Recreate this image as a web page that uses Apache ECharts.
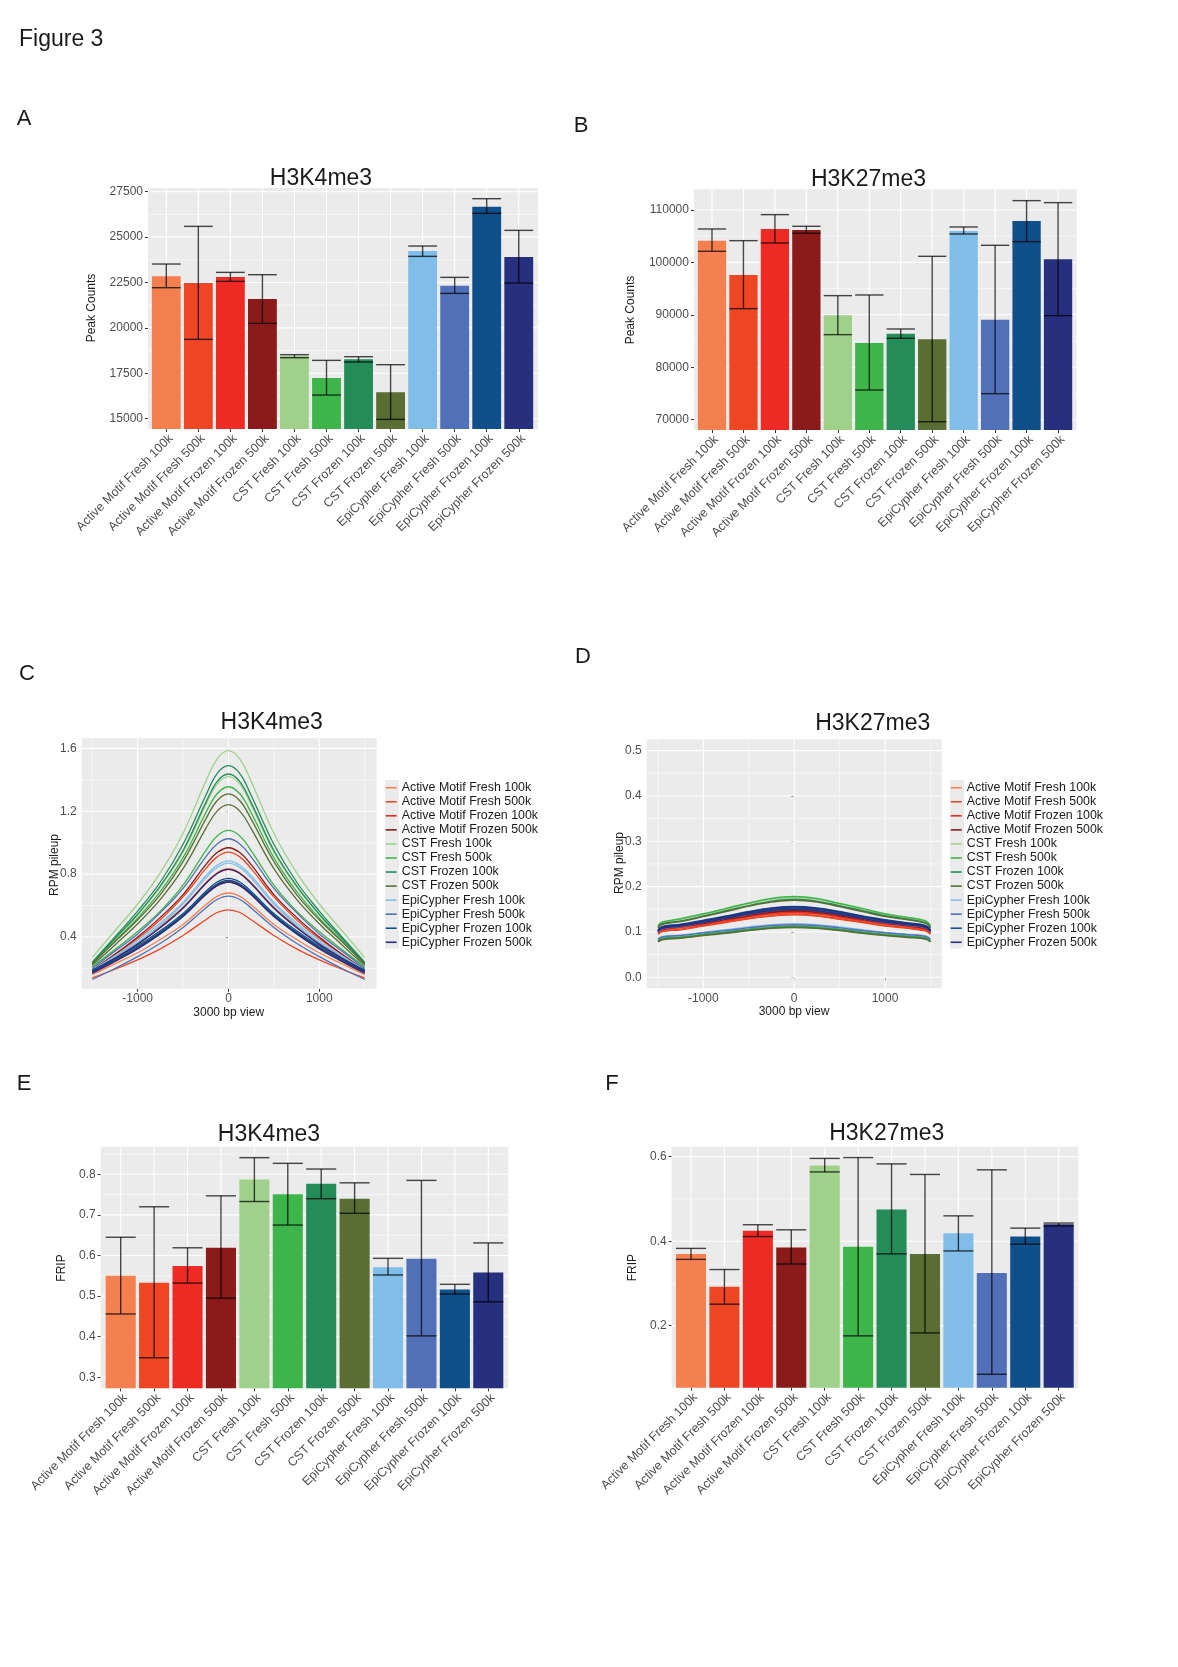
<!DOCTYPE html>
<html>
<head>
<meta charset="utf-8">
<script src="https://cdn.jsdelivr.net/npm/echarts@6.0.0/dist/echarts.min.js"></script>
<style>
html,body{margin:0;padding:0;background:#fff;}
#chart{width:1178px;height:1667px;}
</style>
</head>
<body>
<div id="chart"></div>
<script>
// ---------------- DATA ----------------
const categories = ['Active Motif Fresh 100k','Active Motif Fresh 500k','Active Motif Frozen 100k','Active Motif Frozen 500k',
  'CST Fresh 100k','CST Fresh 500k','CST Frozen 100k','CST Frozen 500k',
  'EpiCypher Fresh 100k','EpiCypher Fresh 500k','EpiCypher Frozen 100k','EpiCypher Frozen 500k'];
const colors = ['#F4804F','#EE4623','#EE2A24','#8B1A1A','#9FD18B','#3EB54A','#238C59','#586E33','#80BDE8','#5170B7','#0F508A','#272F7F'];

// A: H3K4me3 peak counts
const aMean = [22838, 22471, 22801, 21590, 18450, 17240, 18280, 16450, 24233, 22324, 26674, 23902];
const aLow  = [22214, 19369, 22562, 20250, 18360, 16303, 18120, 14963, 23939, 21902, 26307, 22471];
const aHigh = [23517, 25591, 23058, 22930, 18525, 18212, 18414, 17974, 24508, 22783, 27115, 25371];
const aTicks = [15000, 17500, 20000, 22500, 25000, 27500];
const aMinor = [16250, 18750, 21250, 23750, 26250];

// B: H3K27me3 peak counts
const bMean = [104150, 97600, 106375, 106185, 89906, 84628, 86408, 85327, 105994, 89079, 107901, 100589];
const bLow  = [102115, 91177, 103705, 105549, 86218, 75661, 85518, 69620, 105422, 74962, 103959, 89842];
const bHigh = [106375, 104150, 109110, 106884, 93657, 93785, 87298, 101161, 106757, 103260, 111781, 111399];
const bTicks = [70000, 80000, 90000, 100000, 110000];
const bMinor = [75000, 85000, 95000, 105000];

// E: H3K4me3 FRIP
const eMean = [0.550, 0.533, 0.574, 0.619, 0.787, 0.751, 0.777, 0.740, 0.571, 0.592, 0.516, 0.558];
const eLow  = [0.456, 0.348, 0.532, 0.495, 0.733, 0.675, 0.740, 0.704, 0.552, 0.402, 0.505, 0.486];
const eHigh = [0.645, 0.720, 0.619, 0.747, 0.841, 0.827, 0.813, 0.779, 0.593, 0.785, 0.529, 0.631];
const eTicks = [0.3, 0.4, 0.5, 0.6, 0.7, 0.8];
const eMinor = [0.35, 0.45, 0.55, 0.65, 0.75, 0.85];

// F: H3K27me3 FRIP
const fMean = [0.370, 0.292, 0.425, 0.385, 0.579, 0.387, 0.475, 0.370, 0.419, 0.325, 0.411, 0.440];
const fLow  = [0.357, 0.251, 0.411, 0.346, 0.564, 0.176, 0.370, 0.183, 0.377, 0.085, 0.393, 0.436];
const fHigh = [0.383, 0.333, 0.439, 0.427, 0.596, 0.598, 0.583, 0.558, 0.460, 0.569, 0.431, 0.443];
const fTicks = [0.2, 0.4, 0.6];
const fMinor = [0.1, 0.3, 0.5];

// C: H3K4me3 profiles (two replicates per condition)
const cX = [-1500, -1250, -1000, -750, -500, -250, -125, 0, 125, 250, 500, 750, 1000, 1250, 1500];
const c_AM_Fresh_100k = [
  [0.16, 0.23, 0.30, 0.385, 0.48, 0.605, 0.659, 0.68, 0.659, 0.605, 0.48, 0.385, 0.30, 0.23, 0.16],
  [0.19, 0.275, 0.365, 0.47, 0.59, 0.745, 0.809, 0.835, 0.809, 0.745, 0.59, 0.47, 0.365, 0.275, 0.19]];
const c_AM_Fresh_500k = [
  [0.14, 0.195, 0.255, 0.325, 0.41, 0.51, 0.556, 0.573, 0.556, 0.51, 0.41, 0.325, 0.255, 0.195, 0.14],
  [0.19, 0.29, 0.39, 0.51, 0.655, 0.835, 0.91, 0.94, 0.91, 0.835, 0.655, 0.51, 0.39, 0.29, 0.19]];
const c_AM_Frozen_100k = [
  [0.18, 0.265, 0.355, 0.46, 0.585, 0.74, 0.804, 0.83, 0.804, 0.74, 0.585, 0.46, 0.355, 0.265, 0.18],
  [0.17, 0.245, 0.33, 0.425, 0.535, 0.675, 0.736, 0.76, 0.736, 0.675, 0.535, 0.425, 0.33, 0.245, 0.17]];
const c_AM_Frozen_500k = [
  [0.19, 0.29, 0.40, 0.525, 0.67, 0.86, 0.937, 0.968, 0.937, 0.86, 0.67, 0.525, 0.40, 0.29, 0.19],
  [0.18, 0.255, 0.335, 0.425, 0.535, 0.67, 0.727, 0.75, 0.727, 0.67, 0.535, 0.425, 0.335, 0.255, 0.18]];
const c_CST_Fresh_100k = [
  [0.27, 0.44, 0.61, 0.81, 1.06, 1.39, 1.532, 1.585, 1.532, 1.39, 1.06, 0.81, 0.61, 0.44, 0.27],
  [0.23, 0.385, 0.54, 0.72, 0.94, 1.24, 1.372, 1.42, 1.372, 1.24, 0.94, 0.72, 0.54, 0.385, 0.23]];
const c_CST_Fresh_500k = [
  [0.23, 0.375, 0.52, 0.69, 0.905, 1.19, 1.311, 1.356, 1.311, 1.19, 0.905, 0.69, 0.52, 0.375, 0.23],
  [0.21, 0.32, 0.435, 0.565, 0.73, 0.95, 1.043, 1.078, 1.043, 0.95, 0.73, 0.565, 0.435, 0.32, 0.21]];
const c_CST_Frozen_100k = [
  [0.24, 0.40, 0.565, 0.75, 0.99, 1.30, 1.44, 1.49, 1.44, 1.30, 0.99, 0.75, 0.565, 0.40, 0.24],
  [0.23, 0.39, 0.545, 0.725, 0.95, 1.255, 1.389, 1.437, 1.389, 1.255, 0.95, 0.725, 0.545, 0.39, 0.23]];
const c_CST_Frozen_500k = [
  [0.23, 0.37, 0.51, 0.67, 0.88, 1.15, 1.267, 1.31, 1.267, 1.15, 0.88, 0.67, 0.51, 0.37, 0.23],
  [0.22, 0.35, 0.485, 0.64, 0.835, 1.09, 1.201, 1.242, 1.201, 1.09, 0.835, 0.64, 0.485, 0.35, 0.22]];
const c_Epi_Fresh_100k = [
  [0.19, 0.28, 0.38, 0.49, 0.62, 0.79, 0.857, 0.885, 0.857, 0.79, 0.62, 0.49, 0.38, 0.28, 0.19],
  [0.18, 0.27, 0.365, 0.475, 0.61, 0.775, 0.842, 0.87, 0.842, 0.775, 0.61, 0.475, 0.365, 0.27, 0.18]];
const c_Epi_Fresh_500k = [
  [0.20, 0.31, 0.42, 0.555, 0.71, 0.91, 0.992, 1.025, 0.992, 0.91, 0.71, 0.555, 0.42, 0.31, 0.20],
  [0.13, 0.20, 0.275, 0.36, 0.46, 0.585, 0.639, 0.66, 0.639, 0.585, 0.46, 0.36, 0.275, 0.20, 0.13]];
const c_Epi_Frozen_100k = [
  [0.19, 0.265, 0.345, 0.44, 0.55, 0.69, 0.75, 0.773, 0.75, 0.69, 0.55, 0.44, 0.345, 0.265, 0.19],
  [0.18, 0.255, 0.335, 0.43, 0.54, 0.68, 0.737, 0.76, 0.737, 0.68, 0.54, 0.43, 0.335, 0.255, 0.18]];
const c_Epi_Frozen_500k = [
  [0.18, 0.265, 0.355, 0.46, 0.585, 0.74, 0.804, 0.83, 0.804, 0.74, 0.585, 0.46, 0.355, 0.265, 0.18],
  [0.17, 0.245, 0.325, 0.42, 0.53, 0.67, 0.727, 0.75, 0.727, 0.67, 0.53, 0.42, 0.325, 0.245, 0.17]];
const cTicksY = [0.4, 0.8, 1.2, 1.6];
const cMinorY = [0.2, 0.6, 1.0, 1.4];
const profTicksX = [-1000, 0, 1000];
const profMinorX = [-1500, -500, 500, 1500];

// D: H3K27me3 profiles
const dX = [-1500, -1450, -1250, -1000, -750, -500, -250, 0, 250, 500, 750, 1000, 1250, 1450, 1500];
const d_AM_Fresh_100k = [
  [.100, .106, .111, .118, .127, .135, .142, .145, .142, .135, .127, .119, .113, .107, .100],
  [.098, .104, .109, .116, .124, .133, .139, .142, .139, .132, .124, .117, .111, .105, .098]];
const d_AM_Fresh_500k = [
  [.096, .102, .106, .114, .122, .130, .136, .139, .136, .129, .122, .114, .109, .103, .096],
  [.095, .101, .105, .113, .121, .129, .135, .138, .135, .128, .121, .113, .108, .102, .095]];
const d_AM_Frozen_100k = [
  [.101, .107, .112, .120, .128, .137, .144, .147, .144, .137, .128, .120, .114, .108, .101],
  [.099, .105, .110, .117, .125, .134, .140, .143, .140, .133, .125, .118, .112, .106, .099]];
const d_AM_Frozen_500k = [
  [.102, .108, .113, .121, .129, .138, .145, .148, .145, .138, .129, .121, .115, .109, .102],
  [.101, .107, .112, .119, .128, .136, .143, .146, .143, .136, .128, .120, .114, .108, .101]];
const d_CST_Fresh_100k = [
  [.113, .121, .128, .139, .150, .162, .172, .176, .172, .162, .150, .139, .131, .123, .113],
  [.080, .085, .088, .094, .099, .105, .110, .112, .110, .105, .099, .094, .090, .086, .080]];
const d_CST_Fresh_500k = [
  [.114, .122, .129, .140, .152, .164, .174, .178, .174, .163, .152, .140, .132, .124, .114],
  [.081, .086, .089, .095, .100, .106, .111, .113, .111, .106, .100, .095, .091, .087, .081]];
const d_CST_Frozen_100k = [
  [.110, .118, .124, .135, .147, .158, .168, .172, .168, .158, .147, .136, .128, .120, .110],
  [.079, .084, .087, .093, .098, .104, .109, .111, .109, .104, .098, .093, .089, .085, .079]];
const d_CST_Frozen_500k = [
  [.109, .117, .123, .134, .145, .157, .166, .170, .166, .156, .145, .134, .127, .119, .109],
  [.078, .083, .086, .092, .097, .103, .108, .110, .108, .103, .097, .092, .088, .084, .078]];
const d_Epi_Fresh_100k = [
  [.101, .108, .113, .122, .131, .141, .149, .152, .149, .141, .131, .123, .116, .110, .101],
  [.085, .090, .093, .099, .105, .111, .116, .118, .116, .111, .105, .099, .095, .091, .085]];
const d_Epi_Fresh_500k = [
  [.100, .107, .112, .121, .130, .139, .147, .150, .147, .139, .130, .121, .115, .109, .100],
  [.084, .089, .092, .098, .103, .109, .114, .116, .114, .109, .103, .098, .094, .090, .084]];
const d_Epi_Frozen_100k = [
  [.105, .112, .117, .126, .135, .145, .153, .156, .153, .145, .135, .127, .120, .114, .105],
  [.103, .110, .115, .124, .133, .142, .150, .153, .150, .142, .133, .124, .118, .112, .103]];
const d_Epi_Frozen_500k = [
  [.104, .111, .116, .125, .134, .144, .152, .155, .152, .144, .134, .126, .119, .113, .104],
  [.101, .108, .113, .121, .130, .140, .147, .150, .147, .139, .130, .122, .116, .110, .101]];
const dTicksY = [0, 0.1, 0.2, 0.3, 0.4, 0.5];
const dMinorY = [0.05, 0.15, 0.25, 0.35, 0.45];

// ---------------- BUILD ----------------
const FF = "'Liberation Sans', Arial, Helvetica, sans-serif";
const chart = echarts.init(document.getElementById('chart'), null, {renderer: 'canvas'});

// plot background rectangles [x, y, w, h]
const bgA = [148, 188, 390, 241];
const bgB = [694, 189.3, 382.7, 240.7];
const bgC = [81.7, 738.3, 295, 250.4];
const bgD = [646.7, 739.3, 295, 249];
const bgE = [100.7, 1146.7, 407.6, 241.6];
const bgF = [671.7, 1146.7, 406.6, 241];

const grids = [
  {left: 150.28, top: 188, width: 384.5, height: 241},
  {left: 696.27, top: 189.3, width: 377.5, height: 240.7},
  {left: 81.7, top: 738.3, width: 295, height: 250.4},
  {left: 646.7, top: 739.3, width: 295, height: 249},
  {left: 103.99, top: 1146.7, width: 401.0, height: 241.6},
  {left: 674.29, top: 1146.7, width: 401.1, height: 241}
];

function catX(gi) {
  return {type: 'category', gridIndex: gi, data: categories,
    axisLine: {show: false},
    axisTick: {show: true, alignWithLabel: true, length: 3, lineStyle: {color: '#333', width: 1}},
    axisLabel: {rotate: 45, interval: 0, align: 'right', verticalAlign: 'top', margin: 3,
      fontSize: 12.5, color: '#4d4d4d', fontFamily: FF},
    splitLine: {show: false}};
}
function valX(gi, min, max) {
  return {type: 'value', gridIndex: gi, min: min, max: max,
    axisLine: {show: false},
    axisTick: {show: true, length: 3, customValues: profTicksX, lineStyle: {color: '#333'}},
    axisLabel: {customValues: profTicksX, margin: 4, fontSize: 12, color: '#4d4d4d', fontFamily: FF,
      formatter: v => String(Math.round(v))},
    splitLine: {show: false}};
}
function valY(gi, min, max, ticks, dec, offset) {
  return {type: 'value', gridIndex: gi, min: min, max: max, offset: offset,
    axisLine: {show: false},
    axisTick: {show: true, length: 3, customValues: ticks, lineStyle: {color: '#333'}},
    axisLabel: {customValues: ticks, margin: 5, fontSize: 12, color: '#4d4d4d', fontFamily: FF,
      formatter: v => dec === 0 ? String(Math.round(v)) : v.toFixed(dec)},
    splitLine: {show: false}};
}

const xAxes = [catX(0), catX(1), valX(2, -1616, 1632), valX(3, -1624, 1624), catX(4), catX(5)];
const yAxes = [
  valY(0, 14433, 27704, aTicks, 0, 2.3),
  valY(1, 68031, 113943, bTicks, 0, 2.3),
  valY(2, 0.0714, 1.664, cTicksY, 1, 0),
  valY(3, -0.0243, 0.525, dTicksY, 1, 0),
  valY(4, 0.2729, 0.868, eTicks, 1, 3.3),
  valY(5, 0.0533, 0.6237, fTicks, 1, 2.6)
];

const series = [];

// white panel grid lines (major + minor), drawn through the axes' own scales
function gridLines(gi, bg, hMaj, hMin, vMaj, vMin, xRef, yRef) {
  series.push({
    type: 'custom', xAxisIndex: gi, yAxisIndex: gi, silent: true, z: 1,
    data: [[xRef, yRef]],
    renderItem: function (params, api) {
      const children = [];
      const hl = (v, major) => {
        const y = api.coord([xRef, v])[1];
        children.push({type: 'line', shape: {x1: bg[0], y1: y, x2: bg[0] + bg[2], y2: y},
          style: {stroke: '#ffffff', lineWidth: major ? 1.1 : 0.55}});
      };
      const vl = (v, major) => {
        const x = api.coord([v, yRef])[0];
        children.push({type: 'line', shape: {x1: x, y1: bg[1], x2: x, y2: bg[1] + bg[3]},
          style: {stroke: '#ffffff', lineWidth: major ? 1.1 : 0.55}});
      };
      hMin.forEach(v => hl(v, 0));
      vMin.forEach(v => vl(v, 0));
      hMaj.forEach(v => hl(v, 1));
      vMaj.forEach(v => vl(v, 1));
      return {type: 'group', children: children};
    }
  });
}
const catIdx = categories.map((c, i) => i);
gridLines(0, bgA, aTicks, aMinor, catIdx, [], 0, 14433);
gridLines(1, bgB, bTicks, bMinor, catIdx, [], 0, 68031);
gridLines(2, bgC, cTicksY, cMinorY, profTicksX, profMinorX, -1616, 0.0714);
gridLines(3, bgD, dTicksY, dMinorY, profTicksX, profMinorX, -1624, -0.0243);
gridLines(4, bgE, eTicks, eMinor, catIdx, [], 0, 0.2729);
gridLines(5, bgF, fTicks, fMinor, catIdx, [], 0, 0.0533);

function barPanel(gi, mean, low, high) {
  series.push({
    type: 'bar', xAxisIndex: gi, yAxisIndex: gi, z: 2, barWidth: '90%', silent: true,
    data: mean.map((v, i) => ({value: v, itemStyle: {color: colors[i]}}))
  });
  series.push({
    type: 'custom', xAxisIndex: gi, yAxisIndex: gi, z: 3, silent: true,
    encode: {x: 0, y: [1, 2]},
    data: low.map((l, i) => [i, l, high[i]]),
    renderItem: function (params, api) {
      const i = api.value(0);
      const lo = api.coord([i, api.value(1)]);
      const hi = api.coord([i, api.value(2)]);
      const w = api.size([1, 0])[0] * 0.9 / 2;
      const st = {stroke: 'rgba(0,0,0,0.72)', lineWidth: 1.4, fill: null};
      return {type: 'group', children: [
        {type: 'line', shape: {x1: lo[0], y1: lo[1], x2: hi[0], y2: hi[1]}, style: st},
        {type: 'line', shape: {x1: hi[0] - w, y1: hi[1], x2: hi[0] + w, y2: hi[1]}, style: st},
        {type: 'line', shape: {x1: lo[0] - w, y1: lo[1], x2: lo[0] + w, y2: lo[1]}, style: st}
      ]};
    }
  });
}
barPanel(0, aMean, aLow, aHigh);
barPanel(1, bMean, bLow, bHigh);
barPanel(4, eMean, eLow, eHigh);
barPanel(5, fMean, fLow, fHigh);

const cProfiles = [c_AM_Fresh_100k, c_AM_Fresh_500k, c_AM_Frozen_100k, c_AM_Frozen_500k,
  c_CST_Fresh_100k, c_CST_Fresh_500k, c_CST_Frozen_100k, c_CST_Frozen_500k,
  c_Epi_Fresh_100k, c_Epi_Fresh_500k, c_Epi_Frozen_100k, c_Epi_Frozen_500k];
const dProfiles = [d_AM_Fresh_100k, d_AM_Fresh_500k, d_AM_Frozen_100k, d_AM_Frozen_500k,
  d_CST_Fresh_100k, d_CST_Fresh_500k, d_CST_Frozen_100k, d_CST_Frozen_500k,
  d_Epi_Fresh_100k, d_Epi_Fresh_500k, d_Epi_Frozen_100k, d_Epi_Frozen_500k];

function profilePanel(gi, xs, profiles, width) {
  profiles.forEach((reps, i) => {
    reps.forEach(ys => {
      series.push({
        type: 'line', name: categories[i], xAxisIndex: gi, yAxisIndex: gi, z: 2, silent: true,
        smooth: 0.4, showSymbol: false, symbol: 'none',
        data: xs.map((x, j) => [x, ys[j]]),
        lineStyle: {color: colors[i], width: width},
        itemStyle: {color: colors[i]}
      });
    });
  });
}
profilePanel(2, cX, cProfiles, 1.3);
profilePanel(3, dX, dProfiles, 1.5);

function legendAt(left) {
  return {data: categories, orient: 'vertical', left: left, top: 780.7, padding: 0,
    itemWidth: 11, itemHeight: 1.6, itemGap: 0, icon: 'rect', selectedMode: false,
    textStyle: {fontSize: 12.4, lineHeight: 14.05, color: '#1a1a1a', fontFamily: FF}};
}

function txt(text, x, y, size, color, rot) {
  return {type: 'text', x: x, y: y, rotation: rot || 0, z: 10, silent: true,
    style: {text: text, fontSize: size, fontFamily: FF, fill: color, align: 'center', verticalAlign: 'middle'}};
}
function rect(r, color) {
  return {type: 'rect', shape: {x: r[0], y: r[1], width: r[2], height: r[3]}, z: -10, silent: true,
    style: {fill: color}};
}
const GRAY = '#EBEBEB';
const graphics = [
  rect(bgA, GRAY), rect(bgB, GRAY), rect(bgC, GRAY), rect(bgD, GRAY), rect(bgE, GRAY), rect(bgF, GRAY),
  rect([385, 780, 14, 168.5], GRAY), rect([950, 780, 14, 168.5], GRAY),
  {type: 'text', x: 19, y: 40, z: 10, silent: true,
    style: {text: 'Figure 3', fontSize: 23, fontFamily: FF, fill: '#1a1a1a', align: 'left', verticalAlign: 'middle'}},
  txt('A', 24, 119, 22, '#1a1a1a'),
  txt('B', 581, 126, 22, '#1a1a1a'),
  txt('C', 27, 674, 22, '#1a1a1a'),
  txt('D', 583, 657, 22, '#1a1a1a'),
  txt('E', 24, 1084, 22, '#1a1a1a'),
  txt('F', 612, 1084, 22, '#1a1a1a'),
  txt('H3K4me3', 321, 179, 23, '#1a1a1a'),
  txt('H3K27me3', 868.5, 180, 23, '#1a1a1a'),
  txt('H3K4me3', 271.7, 723, 23, '#1a1a1a'),
  txt('H3K27me3', 872.7, 723.7, 23, '#1a1a1a'),
  txt('H3K4me3', 269, 1134.5, 23, '#1a1a1a'),
  txt('H3K27me3', 886.7, 1133.7, 23, '#1a1a1a'),
  txt('Peak Counts', 92, 308, 12, '#1a1a1a', Math.PI / 2),
  txt('Peak Counts', 631, 310, 12, '#1a1a1a', Math.PI / 2),
  txt('RPM pileup', 55, 865, 12, '#1a1a1a', Math.PI / 2),
  txt('RPM pileup', 620, 863, 12, '#1a1a1a', Math.PI / 2),
  txt('3000 bp view', 228.7, 1012.7, 12, '#1a1a1a'),
  txt('3000 bp view', 794, 1011.7, 12, '#1a1a1a'),
  txt('FRIP', 62, 1268, 12, '#1a1a1a', Math.PI / 2),
  txt('FRIP', 633, 1267.7, 12, '#1a1a1a', Math.PI / 2)
];

chart.setOption({
  animation: false,
  backgroundColor: '#ffffff',
  textStyle: {fontFamily: FF},
  grid: grids,
  xAxis: xAxes,
  yAxis: yAxes,
  legend: [legendAt(385.7), legendAt(950.7)],
  graphic: {elements: graphics},
  series: series
});
</script>
</body>
</html>
